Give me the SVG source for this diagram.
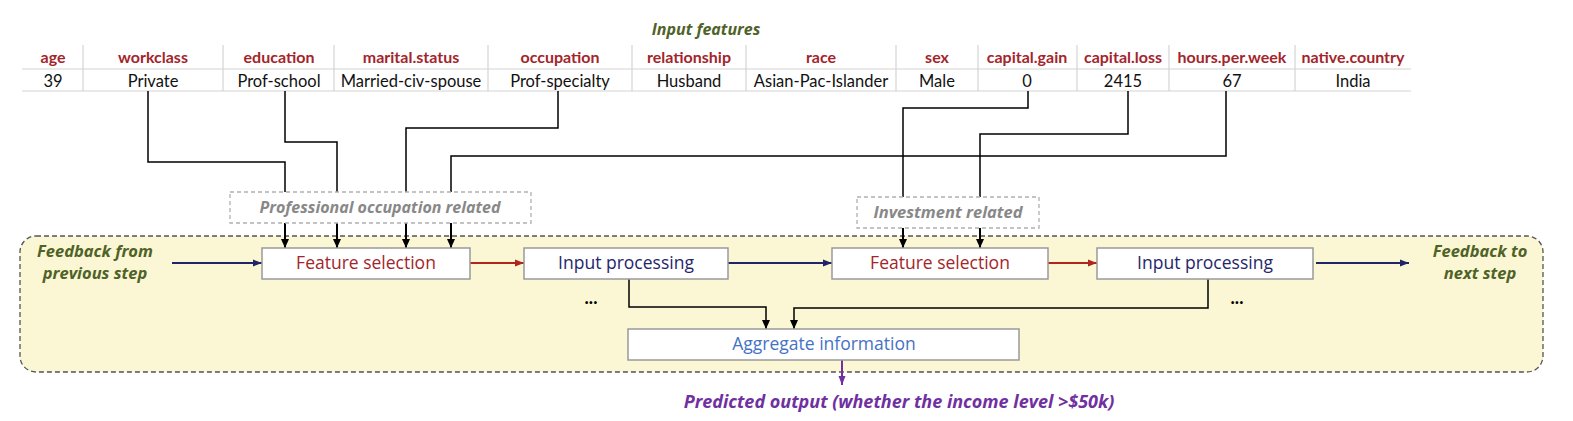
<svg xmlns="http://www.w3.org/2000/svg" width="1573" height="421" viewBox="0 0 1573 421">
<style>
.hdr{font-family:Lato,"Liberation Sans",sans-serif;font-weight:bold;font-size:16px;fill:#a3252b;text-anchor:middle}
.val{font-family:Lato,"Liberation Sans",sans-serif;font-size:16.5px;fill:#111;text-anchor:middle}
.grid{stroke:#d4d4d4;stroke-width:1.2}
.box{fill:#fff;stroke:#9a9a9a;stroke-width:1.5}
.dbox{fill:#fff;stroke:#b0b0b0;stroke-width:1.3;stroke-dasharray:4,3}
.lbl{font-family:"Open Sans","Noto Sans",sans-serif;font-size:17.5px;text-anchor:middle}
.it{font-family:"Open Sans","Noto Sans",sans-serif;font-style:italic;font-weight:bold;text-anchor:middle}
.c1{fill:none;stroke:#000;stroke-width:1.5}
.c2{fill:none;stroke:#000;stroke-width:2}
</style>
<defs>
<marker id="ab" markerUnits="userSpaceOnUse" markerWidth="9" markerHeight="9" refX="9" refY="4.5" orient="auto"><path d="M0,0.5 L9,4.5 L0,8.5 z" fill="#000"/></marker>
<marker id="an" markerUnits="userSpaceOnUse" markerWidth="9" markerHeight="9" refX="9" refY="4.5" orient="auto"><path d="M0,1 L9,4.5 L0,8 z" fill="#1f2566"/></marker>
<marker id="ar" markerUnits="userSpaceOnUse" markerWidth="9" markerHeight="9" refX="9" refY="4.5" orient="auto"><path d="M0,1 L9,4.5 L0,8 z" fill="#b0261f"/></marker>
<marker id="ap" markerUnits="userSpaceOnUse" markerWidth="9" markerHeight="9" refX="9" refY="4.5" orient="auto"><path d="M0,1 L9,4.5 L0,8 z" fill="#7030a0"/></marker>
</defs>
<rect width="1573" height="421" fill="#fff"/>

<g id="container">
<rect x="20" y="236" width="1523" height="136" rx="16" fill="#fbf7d4" stroke="#555" stroke-width="1.3" stroke-dasharray="5,3"/>
</g>

<g id="table">
<text x="706" y="35" class="it" font-size="16" fill="#4f6228">Input features</text>
<line class="grid" x1="22" y1="69" x2="1411" y2="69"/>
<line class="grid" x1="22" y1="91" x2="1411" y2="91"/>
<g class="grid">
<line x1="83" y1="45" x2="83" y2="91"/><line x1="223" y1="45" x2="223" y2="91"/><line x1="334" y1="45" x2="334" y2="91"/><line x1="488" y1="45" x2="488" y2="91"/><line x1="632" y1="45" x2="632" y2="91"/><line x1="746" y1="45" x2="746" y2="91"/><line x1="896" y1="45" x2="896" y2="91"/><line x1="978" y1="45" x2="978" y2="91"/><line x1="1077" y1="45" x2="1077" y2="91"/><line x1="1169" y1="45" x2="1169" y2="91"/><line x1="1295" y1="45" x2="1295" y2="91"/>
</g>
<text class="hdr" x="53" y="63">age</text>
<text class="hdr" x="153" y="63">workclass</text>
<text class="hdr" x="279" y="63">education</text>
<text class="hdr" x="411" y="63">marital.status</text>
<text class="hdr" x="560" y="63">occupation</text>
<text class="hdr" x="689" y="63">relationship</text>
<text class="hdr" x="821" y="63">race</text>
<text class="hdr" x="937" y="63">sex</text>
<text class="hdr" x="1027" y="63">capital.gain</text>
<text class="hdr" x="1123" y="63">capital.loss</text>
<text class="hdr" x="1232" y="63">hours.per.week</text>
<text class="hdr" x="1353" y="63">native.country</text>
<text class="val" x="53" y="87">39</text>
<text class="val" x="153" y="87">Private</text>
<text class="val" x="279" y="87">Prof-school</text>
<text class="val" x="411" y="87">Married-civ-spouse</text>
<text class="val" x="560" y="87">Prof-specialty</text>
<text class="val" x="689" y="87">Husband</text>
<text class="val" x="821" y="87">Asian-Pac-Islander</text>
<text class="val" x="937" y="87">Male</text>
<text class="val" x="1027" y="87">0</text>
<text class="val" x="1123" y="87">2415</text>
<text class="val" x="1232" y="87">67</text>
<text class="val" x="1353" y="87">India</text>
</g>

<g id="connectors">
<polyline class="c1" points="148,91 148,162 285,162 285,192"/>
<polyline class="c1" points="285,91 285,142 337,142 337,192"/>
<polyline class="c1" points="558,91 558,128 406,128 406,192"/>
<polyline class="c1" points="1226,91 1226,156 451,156 451,192"/>
<polyline class="c1" points="1028,91 1028,108 903,108 903,197"/>
<polyline class="c1" points="1128,91 1128,134 980,134 980,197"/>
<line class="c2" x1="285" y1="223" x2="285" y2="248" marker-end="url(#ab)"/>
<line class="c2" x1="337" y1="223" x2="337" y2="248" marker-end="url(#ab)"/>
<line class="c2" x1="406" y1="223" x2="406" y2="248" marker-end="url(#ab)"/>
<line class="c2" x1="451" y1="223" x2="451" y2="248" marker-end="url(#ab)"/>
<line class="c2" x1="903" y1="228" x2="903" y2="248" marker-end="url(#ab)"/>
<line class="c2" x1="980" y1="228" x2="980" y2="248" marker-end="url(#ab)"/>
<line x1="172" y1="263" x2="262" y2="263" stroke="#1f2566" stroke-width="2" marker-end="url(#an)"/>
<line x1="470" y1="263" x2="524" y2="263" stroke="#b0261f" stroke-width="2" marker-end="url(#ar)"/>
<line x1="728" y1="263" x2="832" y2="263" stroke="#1f2566" stroke-width="2" marker-end="url(#an)"/>
<line x1="1048" y1="263" x2="1097" y2="263" stroke="#b0261f" stroke-width="2" marker-end="url(#ar)"/>
<line x1="1316" y1="263" x2="1409" y2="263" stroke="#1f2566" stroke-width="2" marker-end="url(#an)"/>
<polyline class="c1" points="629,279 629,307 766,307 766,329" marker-end="url(#ab)"/>
<polyline class="c1" points="1208,279 1208,308 794,308 794,329" marker-end="url(#ab)"/>
<line x1="842" y1="360" x2="842" y2="385" stroke="#7030a0" stroke-width="2" marker-end="url(#ap)"/>
</g>

<g id="prof-group">
<rect class="dbox" x="230" y="192" width="301" height="31"/>
<text class="it" x="380" y="213" font-size="16" fill="#888">Professional occupation related</text>
</g>
<g id="invest-group">
<rect class="dbox" x="857" y="197" width="182" height="31"/>
<text class="it" x="948" y="218" font-size="16.5" fill="#888">Investment related</text>
</g>

<g id="feedback-in">
<text class="it" x="95" y="257" font-size="16.5" fill="#4f6228">Feedback from</text>
<text class="it" x="95" y="279" font-size="16.5" fill="#4f6228">previous step</text>
</g>
<g id="feedback-out">
<text class="it" x="1480" y="257" font-size="16.5" fill="#4f6228">Feedback to</text>
<text class="it" x="1480" y="279" font-size="16.5" fill="#4f6228">next step</text>
</g>

<g id="fs1">
<rect class="box" x="262" y="248" width="208" height="31"/>
<text class="lbl" x="366" y="269" fill="#a3252b">Feature selection</text>
</g>
<g id="ip1">
<rect class="box" x="524" y="248" width="204" height="31"/>
<text class="lbl" x="626" y="269" fill="#25266b">Input processing</text>
</g>
<g id="fs2">
<rect class="box" x="832" y="248" width="216" height="31"/>
<text class="lbl" x="940" y="269" fill="#a3252b">Feature selection</text>
</g>
<g id="ip2">
<rect class="box" x="1097" y="248" width="216" height="31"/>
<text class="lbl" x="1205" y="269" fill="#25266b">Input processing</text>
</g>
<g id="dots">
<text x="591" y="304" font-family="Lato,sans-serif" font-weight="bold" font-size="18" fill="#000" text-anchor="middle">...</text>
<text x="1237" y="304" font-family="Lato,sans-serif" font-weight="bold" font-size="18" fill="#000" text-anchor="middle">...</text>
</g>
<g id="aggregate">
<rect class="box" x="628" y="329" width="391" height="31"/>
<text class="lbl" x="824" y="350" fill="#4472c4">Aggregate information</text>
</g>
<g id="output">
<text class="it" x="899" y="408" font-size="18" fill="#7030a0">Predicted output (whether the income level &gt;$50k)</text>
</g>
</svg>
